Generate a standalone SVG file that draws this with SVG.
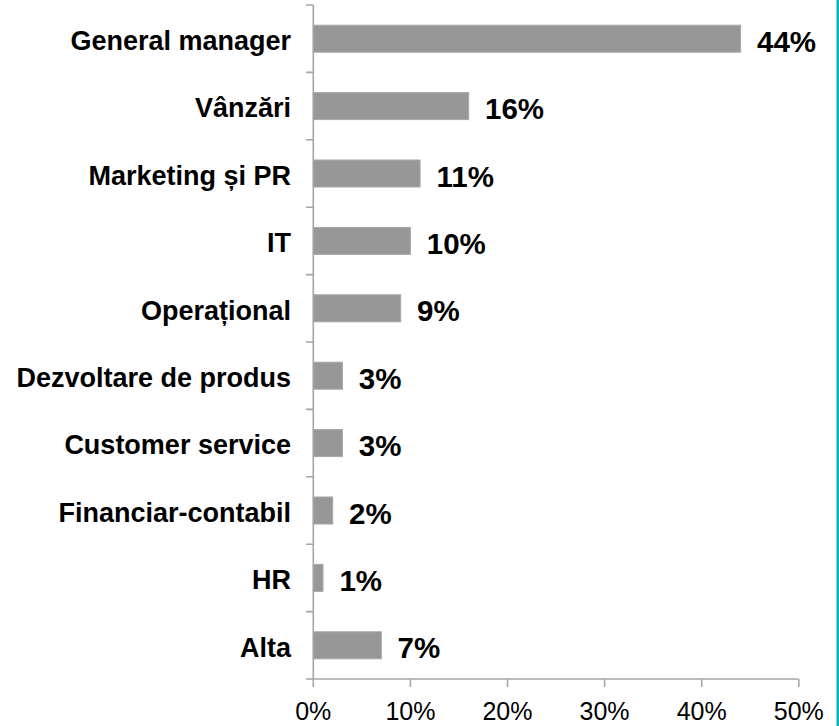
<svg xmlns="http://www.w3.org/2000/svg" width="839" height="726" viewBox="0 0 839 726">
<style>
.cat{font-family:"Liberation Sans",Arial,sans-serif;font-weight:bold;font-size:27px;fill:#000;text-anchor:end}
.val{font-family:"Liberation Sans",Arial,sans-serif;font-weight:bold;font-size:29.5px;fill:#000}
.tick{font-family:"Liberation Sans",Arial,sans-serif;font-size:25px;fill:#000;text-anchor:middle}
.bar{fill:#979797;stroke:#a8a8a8;stroke-width:1}
.ax{stroke:#a6a6a6;stroke-width:1.6;fill:none}
</style>
<rect x="0" y="0" width="839" height="726" fill="#fff"/>
<rect x="836.5" y="0" width="2.5" height="726" fill="#0BB3C2"/>
<g id="axes">
<path class="ax" d="M313.3,5 V679 H798.7"/>
<path class="ax" d="M306,5H313.3M306,72.4H313.3M306,139.8H313.3M306,207.2H313.3M306,274.6H313.3M306,342H313.3M306,409.4H313.3M306,476.8H313.3M306,544.2H313.3M306,611.6H313.3M306,679H313.3"/>
<path class="ax" d="M313.3,679V687M410.4,679V687M507.5,679V687M604.6,679V687M701.7,679V687M798.8,679V687"/>
<text class="tick" x="313.3" y="720">0%</text>
<text class="tick" x="410.4" y="720">10%</text>
<text class="tick" x="507.5" y="720">20%</text>
<text class="tick" x="604.6" y="720">30%</text>
<text class="tick" x="701.7" y="720">40%</text>
<text class="tick" x="798.8" y="720">50%</text>
</g>
<g id="bar-general-manager"><rect class="bar" x="313.3" y="25.2" width="427.3" height="27"/><text class="cat" x="291" y="50">General manager</text><text class="val" x="757" y="51.7">44%</text></g>
<g id="bar-vanzari"><rect class="bar" x="313.3" y="92.6" width="155.4" height="27"/><text class="cat" x="291" y="117.4">Vânzări</text><text class="val" x="485" y="119.1">16%</text></g>
<g id="bar-marketing"><rect class="bar" x="313.3" y="160" width="106.8" height="27"/><text class="cat" x="291" y="184.8">Marketing și PR</text><text class="val" x="436.5" y="186.5">11%</text></g>
<g id="bar-it"><rect class="bar" x="313.3" y="227.4" width="97.1" height="27"/><text class="cat" x="291" y="252.2">IT</text><text class="val" x="426.8" y="253.9">10%</text></g>
<g id="bar-operational"><rect class="bar" x="313.3" y="294.8" width="87.4" height="27"/><text class="cat" x="291" y="319.6">Operațional</text><text class="val" x="417" y="321.3">9%</text></g>
<g id="bar-dezvoltare"><rect class="bar" x="313.3" y="362.2" width="29.1" height="27"/><text class="cat" x="291" y="387">Dezvoltare de produs</text><text class="val" x="358.8" y="388.7">3%</text></g>
<g id="bar-customer"><rect class="bar" x="313.3" y="429.6" width="29.1" height="27"/><text class="cat" x="291" y="454.4">Customer service</text><text class="val" x="358.8" y="456.1">3%</text></g>
<g id="bar-financiar"><rect class="bar" x="313.3" y="497" width="19.4" height="27"/><text class="cat" x="291" y="521.8">Financiar-contabil</text><text class="val" x="349" y="523.5">2%</text></g>
<g id="bar-hr"><rect class="bar" x="313.3" y="564.4" width="9.7" height="27"/><text class="cat" x="291" y="589.2">HR</text><text class="val" x="339.4" y="590.9">1%</text></g>
<g id="bar-alta"><rect class="bar" x="313.3" y="631.8" width="68" height="27"/><text class="cat" x="291" y="656.6">Alta</text><text class="val" x="397.5" y="658.3">7%</text></g>
<g id="connectors"></g>
</svg>
